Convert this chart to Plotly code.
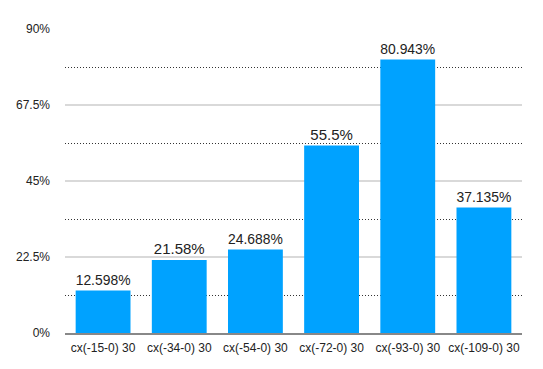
import plotly.graph_objects as go

categories = ["cx(-15-0) 30", "cx(-34-0) 30", "cx(-54-0) 30", "cx(-72-0) 30", "cx(-93-0) 30", "cx(-109-0) 30"]
values = [12.598, 21.58, 24.688, 55.5, 80.943, 37.135]
labels = ["12.598%", "21.58%", "24.688%", "55.5%", "80.943%", "37.135%"]

fig = go.Figure(go.Bar(
    x=categories, y=values, text=labels, textposition="outside",
    marker=dict(color="#00A2FF", line=dict(width=0)),
    textfont=dict(size=15, color="#222222"),
    cliponaxis=False,
))

# page body has an 8px default margin, so the figure is sized to compensate
fig.update_layout(
    width=535, height=361,
    margin=dict(l=57, r=21, t=21, b=36, autoexpand=False),
    paper_bgcolor="white", plot_bgcolor="white",
    font=dict(family="Liberation Sans, Arial, sans-serif", size=12, color="#222222"),
    bargap=0.28,
    showlegend=False,
)
fig.update_yaxes(
    range=[0, 90], tick0=0, dtick=22.5, ticksuffix="%",
    showgrid=True, gridcolor="#d9d9d9", gridwidth=1.5,
    zeroline=False, showline=False, ticks="",
    ticklabelstandoff=14,
    minor=dict(tick0=0, dtick=11.25, showgrid=True, gridcolor="#333333", griddash="1px,2px", gridwidth=1, ticks=""),
    tickfont=dict(size=12),
)
fig.update_xaxes(
    showline=True, linecolor="#888888", linewidth=2,
    showgrid=False, ticks="", tickfont=dict(size=12),
    ticklabelstandoff=3,
)

fig.write_html("out.html")
